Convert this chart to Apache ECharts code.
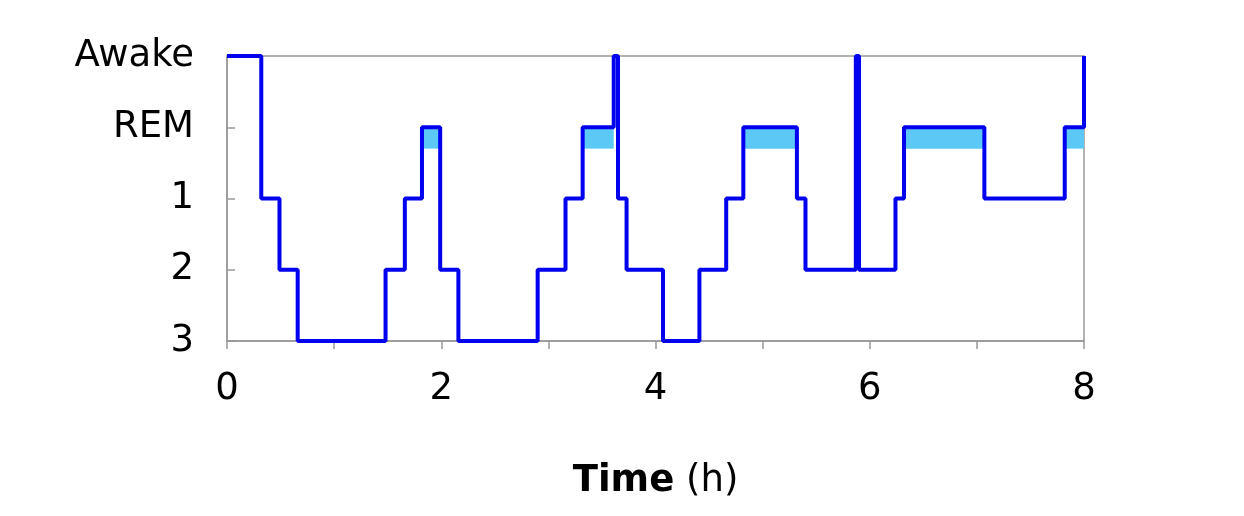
<!DOCTYPE html>
<html><head><meta charset="utf-8">
<script src="https://cdn.jsdelivr.net/npm/echarts@6/dist/echarts.min.js"></script>
<style>html,body{margin:0;padding:0;background:#fff}#c{width:1244px;height:516px}</style>
</head><body><div id="c"></div>
<script>
const stageLabels = ['3', '2', '1', 'REM', 'Awake'];
const times = [0, 0.32, 0.49, 0.66, 1.48, 1.66, 1.82, 1.99, 2.16, 2.90, 3.16, 3.32, 3.61, 3.65, 3.73, 4.07, 4.41, 4.66, 4.82, 5.32, 5.40, 5.87, 5.90, 6.24, 6.32, 7.07, 7.82, 8.0];
const stages = ['Awake','1','2','3','2','1','REM','2','3','2','1','REM','Awake','1','2','3','2','1','REM','1','2','Awake','2','1','REM','1','REM','Awake'];
const remStarts = [1.82, 3.32, 4.82, 6.32, 7.82];
const remEnds = [1.99, 3.61, 5.32, 7.07, 8.0];
const xTicks = [0, 2, 4, 6, 8];

const lineData = times.map((t, i) => [t, stageLabels.indexOf(stages[i])]);
const remLevel = stageLabels.indexOf('REM');
const areas = remStarts.map((s, i) => [{xAxis: s, yAxis: remLevel - 0.3}, {xAxis: remEnds[i], yAxis: remLevel}]);

const chart = echarts.init(document.getElementById('c'));
chart.setOption({
  animation: false,
  textStyle: {fontFamily: 'DejaVu Sans'},
  grid: {left: 227, right: 160, top: 56, bottom: 175, show: true, borderColor: '#999', borderWidth: 1.5},
  xAxis: {
    type: 'value', min: 0, max: 8, interval: 1,
    axisLine: {lineStyle: {color: '#999', width: 1.5}},
    axisTick: {show: true, length: 8, lineStyle: {color: '#999', width: 1.5}},
    splitLine: {show: false},
    axisLabel: {color: '#000', fontSize: 37, margin: 30, fontFamily: 'DejaVu Sans',
      formatter: v => xTicks.includes(v) ? String(v) : ''},
    name: '{b|Time} (h)', nameLocation: 'middle', nameGap: 122,
    nameTextStyle: {fontSize: 37, color: '#000', fontFamily: 'DejaVu Sans',
      rich: {b: {fontSize: 37, fontWeight: 'bold', fontFamily: 'DejaVu Sans', color: '#000'}}}
  },
  yAxis: {
    type: 'value', min: 0, max: 4, interval: 1,
    axisLine: {show: true, lineStyle: {color: '#999', width: 1.5}},
    axisTick: {show: true, inside: true, length: 8, lineStyle: {color: '#999', width: 1.5}},
    splitLine: {show: false},
    axisLabel: {color: '#000', fontSize: 37, margin: 33, fontFamily: 'DejaVu Sans',
      formatter: v => stageLabels[v]}
  },
  series: [{
    type: 'line', step: 'end', data: lineData, symbol: 'none',
    lineStyle: {color: '#0000ee', width: 4},
    markArea: {silent: true, itemStyle: {color: '#5bc8f5'}, data: areas},
    z: 3
  }]
});
</script></body></html>
